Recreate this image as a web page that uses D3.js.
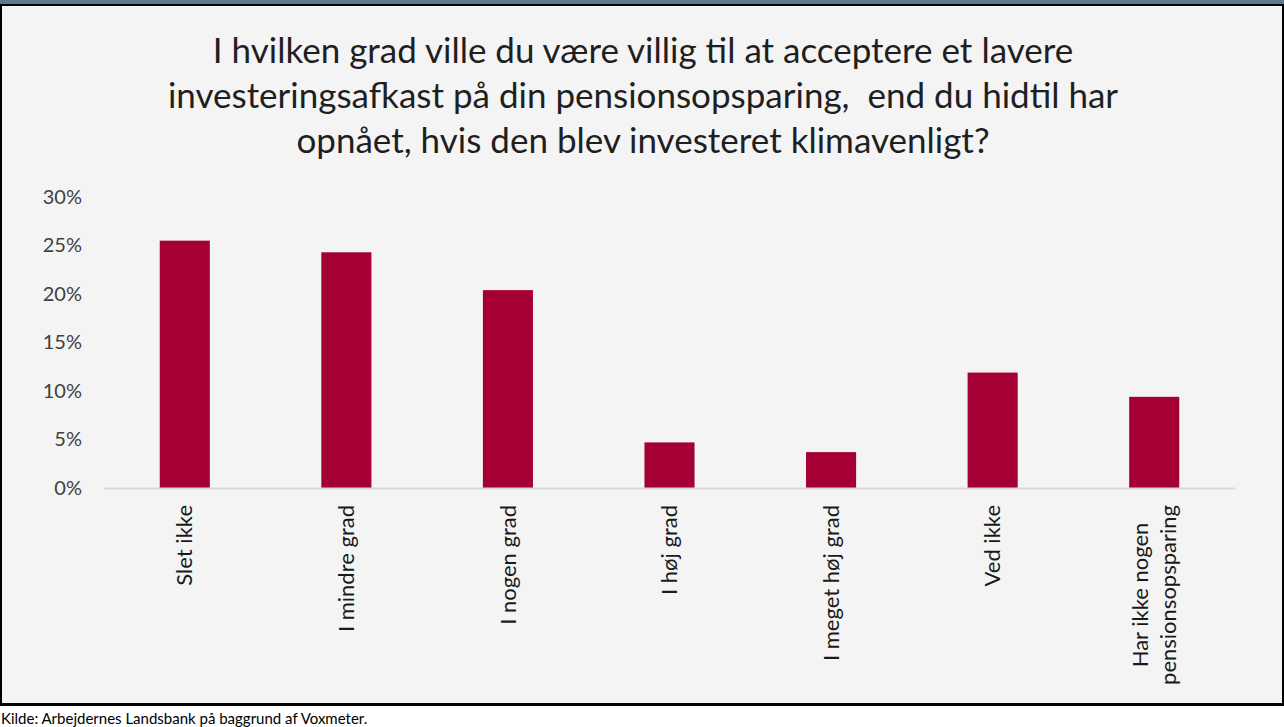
<!DOCTYPE html>
<html>
<head>
<meta charset="utf-8">
<script src="https://cdn.jsdelivr.net/npm/d3@7"></script>
<style>
    body { margin: 0; background: #ffffff; }
    svg { display: block; }
</style>
</head>
<body>
<div id="chart"></div>
<script>
// chart data
const categories = ["Slet ikke", "I mindre grad", "I nogen grad", "I høj grad",
    "I meget høj grad", "Ved ikke", "Har ikke nogen\npensionsopsparing"];
const values = [0.255, 0.243, 0.204, 0.047, 0.037, 0.119, 0.094];
const yTicks = [0, 0.05, 0.10, 0.15, 0.20, 0.25, 0.30];
const titleLines = ["I hvilken grad ville du være villig til at acceptere et lavere",
    "investeringsafkast på din pensionsopsparing,  end du hidtil har",
    "opnået, hvis den blev investeret klimavenligt?"];
const sourceText = "Kilde: Arbejdernes Landsbank på baggrund af Voxmeter.";

const W = 1284, H = 727;
const FONT = "Lato, 'Open Sans', sans-serif";

function draw_bar_chart() {
    var svg = d3.select("#chart").append("svg")
        .attr("width", W)
        .attr("height", H);

    // panel background + frame
    svg.append("rect").attr("x", 0).attr("y", 0).attr("width", W).attr("height", 4)
        .attr("fill", "#5d7893");
    svg.append("rect").attr("x", 0).attr("y", 4).attr("width", W).attr("height", 701)
        .attr("fill", "#f4f4f4");
    svg.append("rect").attr("x", 0).attr("y", 4).attr("width", W).attr("height", 2)
        .attr("fill", "#000");
    svg.append("rect").attr("x", 0).attr("y", 703).attr("width", W).attr("height", 3)
        .attr("fill", "#000");
    svg.append("rect").attr("x", 0).attr("y", 4).attr("width", 2).attr("height", 702)
        .attr("fill", "#000");
    svg.append("rect").attr("x", W - 2).attr("y", 4).attr("width", 2).attr("height", 702)
        .attr("fill", "#000");

    // title (white space kept, the source has a double space in line 2)
    svg.append("text")
        .attr("text-anchor", "middle")
        .attr("xml:space", "preserve")
        .style("white-space", "pre")
        .style("font-family", FONT)
        .style("font-size", "35px")
        .attr("fill", "#1f1f1f")
        .selectAll("tspan")
        .data(titleLines)
        .join("tspan")
        .attr("x", 643)
        .attr("y", (d, i) => 63 + i * 45)
        .text(d => d);

    // plot area
    var margin = { left: 104, right: W - 1235, top: 197, bottom: H - 488 };
    var innerW = W - margin.left - margin.right;
    var innerH = H - margin.top - margin.bottom;

    var g = svg.append("g")
        .attr("transform", "translate(" + margin.left + "," + margin.top + ")");

    var x = d3.scaleBand()
        .domain(categories)
        .range([0, innerW])
        .paddingInner(0.69)
        .paddingOuter(0.345);

    var y = d3.scaleLinear()
        .domain([0, 0.30])
        .range([innerH, 0]);

    // y axis
    var yAxis = g.append("g")
        .call(d3.axisLeft(y).tickValues(yTicks).tickFormat(d3.format(".0%")).tickSize(0).tickPadding(22));
    yAxis.select(".domain").remove();
    yAxis.selectAll("text")
        .style("font-family", FONT)
        .style("font-size", "20px")
        .attr("fill", "#404040");

    // bars
    g.selectAll("rect.bar")
        .data(values)
        .join("rect")
        .attr("class", "bar")
        .attr("x", (d, i) => x(categories[i]))
        .attr("y", d => y(d))
        .attr("width", x.bandwidth())
        .attr("height", d => innerH - y(d))
        .attr("fill", "#a50034");

    // x axis
    var xAxis = g.append("g")
        .attr("transform", "translate(0," + innerH + ")")
        .call(d3.axisBottom(x).tickSize(0).tickFormat(""));
    xAxis.select(".domain")
        .attr("stroke", "#d9d9d9")
        .attr("stroke-width", 2);

    // rotated category labels
    var labels = g.append("g").attr("class", "xlabels")
        .selectAll("text")
        .data(categories)
        .join("text")
        .attr("transform", d => "translate(" + (x(d) + x.bandwidth() / 2) + "," + (innerH + 17) + ") rotate(-90)")
        .attr("text-anchor", "middle")
        .style("font-family", FONT)
        .style("font-size", "22px")
        .attr("fill", "#1a1a1a");

    labels.each(function (d) {
        var lines = d.split("\n");
        var t = d3.select(this);
        var n = lines.length;
        var spans = t.selectAll("tspan")
            .data(lines)
            .join("tspan")
            .attr("y", (l, i) => ((i - (n - 1) / 2) * 1.3 + 0.35) + "em")
            .text(l => l);
        var maxW = 0;
        spans.each(function () { maxW = Math.max(maxW, this.getComputedTextLength()); });
        spans.attr("x", -maxW / 2);
    });

    // source
    svg.append("text")
        .attr("x", 1)
        .attr("y", 724)
        .style("font-family", FONT)
        .style("font-size", "15px")
        .attr("fill", "#000")
        .text(sourceText);
}

draw_bar_chart();
</script>
</body>
</html>
